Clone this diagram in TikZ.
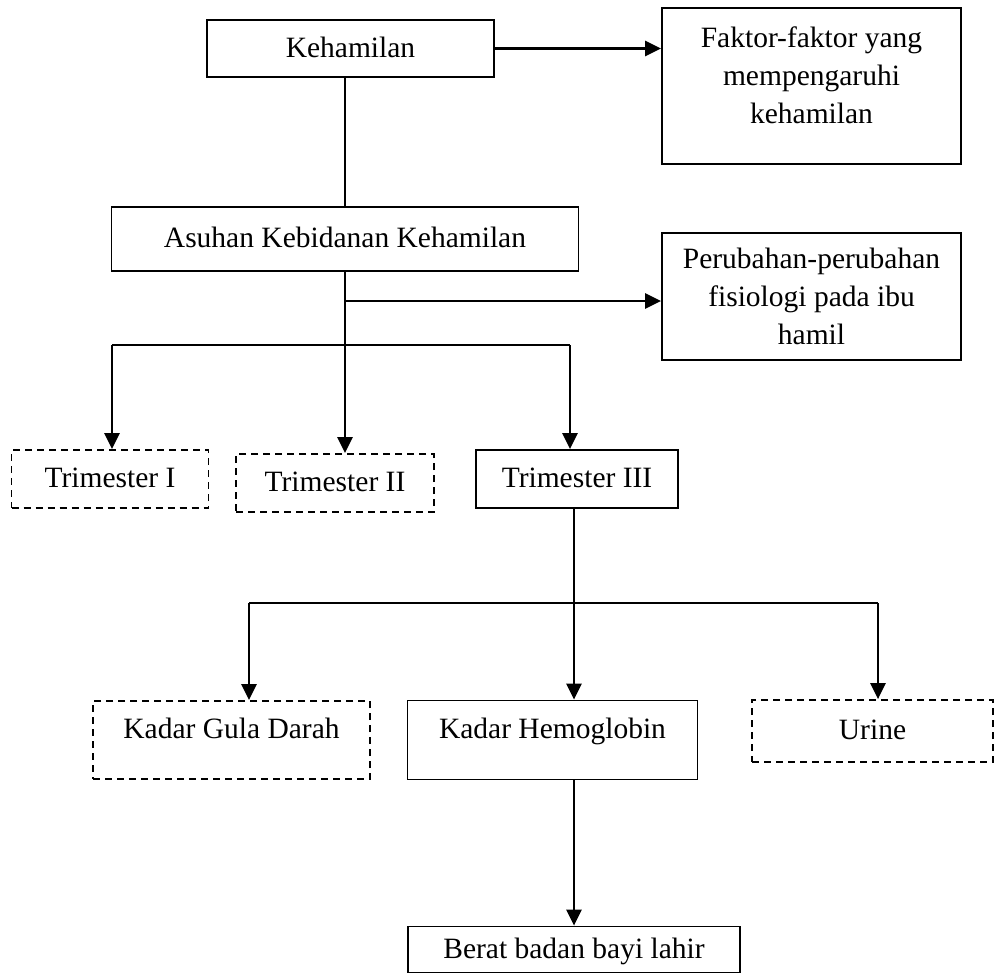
\documentclass[tikz,border=0pt]{standalone}
\usepackage{fontspec}
\setmainfont{Liberation Serif}
\usetikzlibrary{arrows.meta,positioning}
\tikzset{
  tbox/.style={draw=black,line width=1.8pt,align=center,inner sep=0pt,font=\fontsize{29.5}{38}\selectfont},
  box/.style={tbox,text height=20pt,text depth=3pt},
  dbox/.style={box,dash pattern=on 7pt off 5pt},
  ln/.style={line width=2.4pt},
  bar/.style={line width=1.8pt},
  arr/.style={-{Triangle[length=16pt,width=15pt]},line width=2.4pt},
}

\begin{document}
\begin{tikzpicture}[x=1pt,y=-1pt]
  \useasboundingbox (0,0) rectangle (998,978);
  \node[box,minimum width=287pt,minimum height=57pt] (keh) at (350.5,48.5) {Kehamilan};
  \node[tbox,minimum width=299pt,minimum height=156pt,text depth=22pt] (faktor) at (811.5,86) {Faktor-faktor yang\\mempengaruhi\\kehamilan};
  \node[box,minimum width=467pt,minimum height=64pt] (asuhan) at (345,239) {Asuhan Kebidanan Kehamilan};
  \node[tbox,minimum width=299pt,minimum height=127pt] (ubah) at (811.5,296.5) {Perubahan-perubahan\\fisiologi pada ibu\\hamil};
  % trimester
  \node[dbox,minimum width=197pt,minimum height=58pt] (tri1) at (110,479) {Trimester I};
  \node[dbox,minimum width=198pt,minimum height=58pt] (tri2) at (335,483) {Trimester II};
  \node[box,minimum width=202pt,minimum height=58pt] (tri3) at (577,479) {Trimester III};
  % pemeriksaan
  \node[dbox,minimum width=277pt,minimum height=78pt,text depth=23pt] (gula) at (231.5,740) {Kadar Gula Darah};
  \node[box,minimum width=290pt,minimum height=79pt,text depth=23pt] (hb) at (552.5,740) {Kadar Hemoglobin};
  \node[dbox,minimum width=241pt,minimum height=62pt] (urine) at (872.5,731) {Urine};
  \node[box,minimum width=332pt,minimum height=46pt] (berat) at (574,949.5) {Berat badan bayi lahir};

  \coordinate (j1) at (345,301);
  \coordinate (b1l) at (112,345);
  \coordinate (b1m) at (345,345);
  \coordinate (b1r) at (570,345);
  \coordinate (b2l) at (249,603);
  \coordinate (b2m) at (574,603);
  \coordinate (b2r) at (878,603);

  \draw[arr] (keh.east) -- (keh.east -| faktor.west);
  \draw[ln] (keh.south -| asuhan.north) -- (asuhan.north);
  \draw[ln] (asuhan.south) -- (b1m);
  \draw[arr] (j1) -- (j1 -| ubah.west);
  \draw[bar] (b1l) -- (b1r);
  \draw[arr] (b1l) -- (b1l |- tri1.north);
  \draw[arr] (b1m) -- (b1m |- tri2.north);
  \draw[arr] (b1r) -- (b1r |- tri3.north);
  \draw[ln] (tri3.south -| b2m) -- (b2m);
  \draw[bar] (b2l) -- (b2r);
  \draw[arr] (b2l) -- (b2l |- gula.north);
  \draw[arr] (b2m) -- (b2m |- hb.north);
  \draw[arr] (b2r) -- (b2r |- urine.north);
  \draw[arr] (hb.south -| b2m) -- (b2m |- berat.north);
\end{tikzpicture}
\end{document}
